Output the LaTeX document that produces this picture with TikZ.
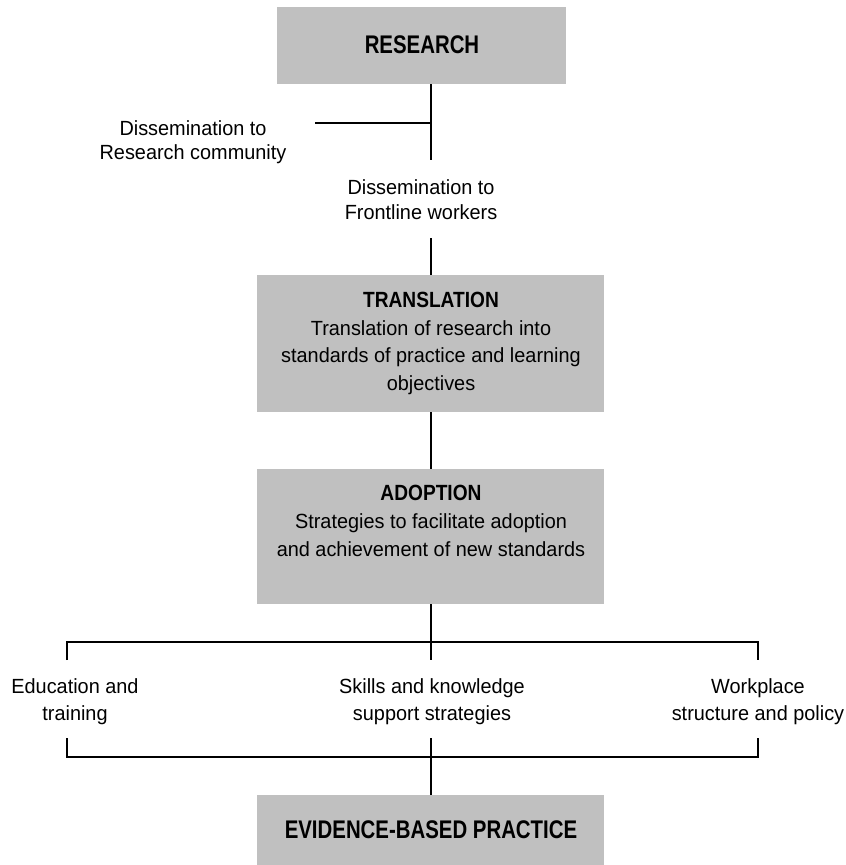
\documentclass[tikz,border=0pt]{standalone}
\usepackage{fontspec}
\setmainfont{Liberation Sans}[FakeStretch=0.97]
\newfontfamily\headfont{Liberation Sans}[FakeStretch=0.8]
\newfontfamily\subheadfont{Liberation Sans}[FakeStretch=0.87]
\definecolor{boxgray}{RGB}{192,192,192}
\begin{document}
\begin{tikzpicture}[x=1pt,y=-1pt,
  box/.style={fill=boxgray,draw=none,inner sep=0pt,anchor=north west},
  txt/.style={align=center,inner sep=0pt,anchor=north,font=\fontsize{20.5}{27.5}\selectfont},
  head/.style={inner sep=0pt,anchor=base,font=\headfont\bfseries\fontsize{25.5}{28}\selectfont},
  conn/.style={line width=1.3pt,black}]
\newcommand{\subhead}[1]{{\subheadfont\bfseries\fontsize{22}{27.5}\selectfont #1}}
\useasboundingbox (0,0) rectangle (846,865);
% boxes
\node[box,minimum width=289pt,minimum height=77pt] (research) at (277,7) {};
\node[box,minimum width=347pt,minimum height=137pt] (translation) at (257,275) {};
\node[box,minimum width=347pt,minimum height=135pt] (adoption) at (257,469) {};
\node[box,minimum width=347pt,minimum height=72pt] (ebp) at (257,795) {};
% box texts
\node[head] (researchT) at (422,53) {RESEARCH};
\node[head] (ebpT) at (431,838) {EVIDENCE-BASED PRACTICE};
\node[txt] (translationT) at (431,292) {\subhead{TRANSLATION}\\Translation of research into\\standards of practice and learning\\objectives};
\node[txt,font=\fontsize{20.5}{28}\selectfont] (adoptionT) at (431,485) {\subhead{ADOPTION}\\Strategies to facilitate adoption\\and achievement of new standards};
% labels
\node[txt,font=\fontsize{20.5}{24}\selectfont] (dissRes) at (193,120) {Dissemination to\\Research community};
\node[txt,font=\fontsize{20.5}{25}\selectfont] (dissFront) at (421,179) {Dissemination to\\Frontline workers};
\node[txt,font=\fontsize{20.5}{27}\selectfont] (edu) at (75,678) {Education and\\training};
\node[txt,font=\fontsize{20.5}{27}\selectfont] (skills) at (432,678) {Skills and knowledge\\support strategies};
\node[txt,font=\fontsize{20.5}{27}\selectfont] (work) at (758,678) {Workplace\\structure and policy};
% coordinates
\coordinate (r1) at (431,123);
\coordinate (r2) at (431,160);
\coordinate (rl) at (315,123);
\coordinate (f1) at (431,238);
\coordinate (busT) at (431,642);
\coordinate (busTL) at (67,642);
\coordinate (busTR) at (758,642);
\coordinate (tL) at (67,660);
\coordinate (tC) at (431,660);
\coordinate (tR) at (758,660);
\coordinate (bL) at (67,738);
\coordinate (bC) at (431,738);
\coordinate (bR) at (758,738);
\coordinate (busBL) at (67,757);
\coordinate (busBR) at (758,757);
% connectors
\draw[conn] (research.south -| r1) -- (r2);
\draw[conn] (rl) -- (r1);
\draw[conn] (f1) -- (translation.north -| f1);
\draw[conn] (translation.south -| f1) -- (adoption.north -| f1);
\draw[conn] (adoption.south -| busT) -- (busT);
\draw[conn] (tL) -- (busTL) -- (busTR) -- (tR);
\draw[conn] (busT) -- (tC);
\draw[conn] (bL) -- (busBL) -- (busBR) -- (bR);
\draw[conn] (bC) -- (ebp.north -| bC);
\end{tikzpicture}
\end{document}
